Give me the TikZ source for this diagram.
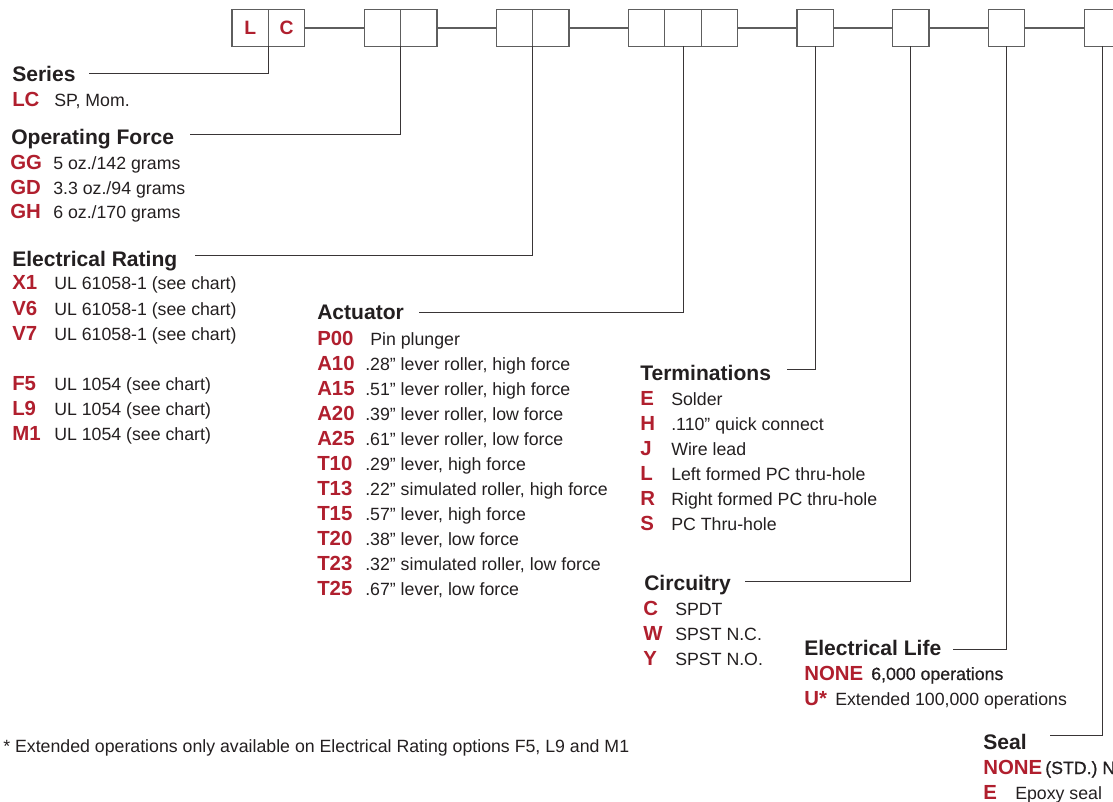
\documentclass[tikz,border=0pt]{standalone}
\usepackage{fontspec}
\setmainfont{Liberation Sans}
\newfontfamily\medfont[FakeBold=0.8]{Liberation Sans}
\usetikzlibrary{positioning}
\definecolor{codered}{HTML}{B01F2E}
\definecolor{ink}{HTML}{231F20}
\definecolor{boxgray}{HTML}{5E5E5E}
\tikzset{
  keybox/.style={draw=boxgray, line width=0.9pt, minimum size=27.3pt, inner sep=0pt, outer sep=0pt,
    text=codered, font=\fontsize{14.5}{16}\selectfont\bfseries},
  link/.style={draw=boxgray, line width=0.9pt},
  leader/.style={draw=ink!90, line width=0.75pt},
  head/.style={anchor=base west, inner sep=0pt, text=ink, font=\fontsize{15.8}{18}\selectfont\bfseries},
  code/.style={anchor=base west, inner sep=0pt, text=codered, font=\fontsize{15.3}{18}\selectfont\bfseries},
  desc/.style={anchor=base west, inner sep=0pt, text=ink, font=\fontsize{13.3}{16}\selectfont},
  meddesc/.style={desc, font=\fontsize{13.3}{16}\medfont},
}
\begin{document}
\begin{tikzpicture}[x=0.75pt, y=-0.75pt]
  \useasboundingbox (0,0) rectangle (1113,802);
  \clip (0,0) rectangle (1113,802);
  % part number boxes
  \node[keybox] (b1) at (250.2,28) {L};
  \node[keybox, right=0pt of b1] (b2) {C};
  \node[keybox, right=44.5pt of b2] (b3) {};
  \node[keybox, right=0pt of b3] (b4) {};
  \node[keybox, right=44.5pt of b4] (b5) {};
  \node[keybox, right=0pt of b5] (b6) {};
  \node[keybox, right=44.5pt of b6] (b7) {};
  \node[keybox, right=0pt of b7] (b8) {};
  \node[keybox, right=0pt of b8] (b9) {};
  \node[keybox, right=44.5pt of b9] (b10) {};
  \node[keybox, right=44.5pt of b10] (b11) {};
  \node[keybox, right=44.5pt of b11] (b12) {};
  \node[keybox, right=44.5pt of b12] (b13) {};
  \draw[link] (b2) -- (b3);
  \draw[link] (b4) -- (b5);
  \draw[link] (b6) -- (b7);
  \draw[link] (b9) -- (b10);
  \draw[link] (b10) -- (b11);
  \draw[link] (b11) -- (b12);
  \draw[link] (b12) -- (b13);

  % Series
  \node[head] (series) at (12,82) {Series};
  \node[code] (ser-c1) at (12,107) {LC};
  \node[desc] (ser-d1) at (54,107) {SP, Mom.};
  \coordinate (ser-tip) at (89,74);
  \draw[leader] (b1.south east) |- (ser-tip);

  % Operating Force
  \node[head] (force) at (11,145) {Operating Force};
  \node[code] (frc-c1) at (10,170) {GG};
  \node[desc] (frc-d1) at (53,170) {5 oz./142 grams};
  \node[code] (frc-c2) at (10,194.5) {GD};
  \node[desc] (frc-d2) at (53,194.5) {3.3 oz./94 grams};
  \node[code] (frc-c3) at (10,219) {GH};
  \node[desc] (frc-d3) at (53,219) {6 oz./170 grams};
  \coordinate (frc-tip) at (190,135);
  \draw[leader] (b3.south east) |- (frc-tip);

  % Electrical Rating
  \node[head] (rating) at (12,267) {Electrical Rating};
  \node[code] (rat-c1) at (12,290) {X1};
  \node[desc] (rat-d1) at (54,290) {UL 61058-1 (see chart)};
  \node[code] (rat-c2) at (12,315) {V6};
  \node[desc] (rat-d2) at (54,315) {UL 61058-1 (see chart)};
  \node[code] (rat-c3) at (12,340) {V7};
  \node[desc] (rat-d3) at (54,340) {UL 61058-1 (see chart)};
  \node[code] (rat-c4) at (12,390) {F5};
  \node[desc] (rat-d4) at (54,390) {UL 1054 (see chart)};
  \node[code] (rat-c5) at (12,415) {L9};
  \node[desc] (rat-d5) at (54,415) {UL 1054 (see chart)};
  \node[code] (rat-c6) at (12,440) {M1};
  \node[desc] (rat-d6) at (54,440) {UL 1054 (see chart)};
  \coordinate (rat-tip) at (195,256);
  \draw[leader] (b5.south east) |- (rat-tip);

  % Actuator
  \node[head] (act) at (317,319) {Actuator};
  \node[code] (act-c1) at (317,345) {P00};
  \node[desc] (act-d1) at (370,345) {Pin plunger};
  \node[code] (act-c2) at (317,370) {A10};
  \node[desc] (act-d2) at (365,370) {.28” lever roller, high force};
  \node[code] (act-c3) at (317,395) {A15};
  \node[desc] (act-d3) at (365,395) {.51” lever roller, high force};
  \node[code] (act-c4) at (317,420) {A20};
  \node[desc] (act-d4) at (365,420) {.39” lever roller, low force};
  \node[code] (act-c5) at (317,445) {A25};
  \node[desc] (act-d5) at (365,445) {.61” lever roller, low force};
  \node[code] (act-c6) at (317,470) {T10};
  \node[desc] (act-d6) at (365,470) {.29” lever, high force};
  \node[code] (act-c7) at (317,495) {T13};
  \node[desc] (act-d7) at (365,495) {.22” simulated roller, high force};
  \node[code] (act-c8) at (317,520) {T15};
  \node[desc] (act-d8) at (365,520) {.57” lever, high force};
  \node[code] (act-c9) at (317,545) {T20};
  \node[desc] (act-d9) at (365,545) {.38” lever, low force};
  \node[code] (act-c10) at (317,570) {T23};
  \node[desc] (act-d10) at (365,570) {.32” simulated roller, low force};
  \node[code] (act-c11) at (317,595) {T25};
  \node[desc] (act-d11) at (365,595) {.67” lever, low force};
  \coordinate (act-tip) at (419,312);
  \draw[leader] (b8.south) |- (act-tip);

  % Terminations
  \node[head] (term) at (640,380) {Terminations};
  \node[code] (trm-c1) at (640,405) {E};
  \node[desc] (trm-d1) at (671,405) {Solder};
  \node[code] (trm-c2) at (640,430) {H};
  \node[desc] (trm-d2) at (671,430) {.110” quick connect};
  \node[code] (trm-c3) at (640,455) {J};
  \node[desc] (trm-d3) at (671,455) {Wire lead};
  \node[code] (trm-c4) at (640,480) {L};
  \node[desc] (trm-d4) at (671,480) {Left formed PC thru-hole};
  \node[code] (trm-c5) at (640,505) {R};
  \node[desc] (trm-d5) at (671,505) {Right formed PC thru-hole};
  \node[code] (trm-c6) at (640,530) {S};
  \node[desc] (trm-d6) at (671,530) {PC Thru-hole};
  \coordinate (trm-tip) at (787,369);
  \draw[leader] (b10.south) |- (trm-tip);

  % Circuitry
  \node[head] (circ) at (644,590) {Circuitry};
  \node[code] (cir-c1) at (643,615) {C};
  \node[desc] (cir-d1) at (675,615) {SPDT};
  \node[code] (cir-c2) at (643,640) {W};
  \node[desc] (cir-d2) at (675,640) {SPST N.C.};
  \node[code] (cir-c3) at (643,665) {Y};
  \node[desc] (cir-d3) at (675,665) {SPST N.O.};
  \coordinate (cir-tip) at (745,581);
  \draw[leader] (b11.south) |- (cir-tip);

  % Electrical Life
  \node[head] (life) at (804,655) {Electrical Life};
  \node[code] (lif-c1) at (804,680) {NONE};
  \node[meddesc] (lif-d1) at (871,680) {6,000 operations};
  \node[code] (lif-c2) at (804,705) {U*};
  \node[desc] (lif-d2) at (835,705) {Extended 100,000 operations};
  \coordinate (lif-tip) at (953,649);
  \draw[leader] (b12.south) |- (lif-tip);

  % Seal
  \node[head] (seal) at (983,749) {Seal};
  \node[code] (sea-c1) at (983,774) {NONE};
  \node[meddesc] (sea-d1) at (1045,774) {(STD.) N};
  \node[code] (sea-c2) at (983,799) {E};
  \node[desc] (sea-d2) at (1015,799) {Epoxy seal};
  \coordinate (sea-tip) at (1050,735);
  \draw[leader] (b13.south) |- (sea-tip);

  \node[desc] (note) at (3,752) {* Extended operations only available on Electrical Rating options F5, L9 and M1};
\end{tikzpicture}
\end{document}
